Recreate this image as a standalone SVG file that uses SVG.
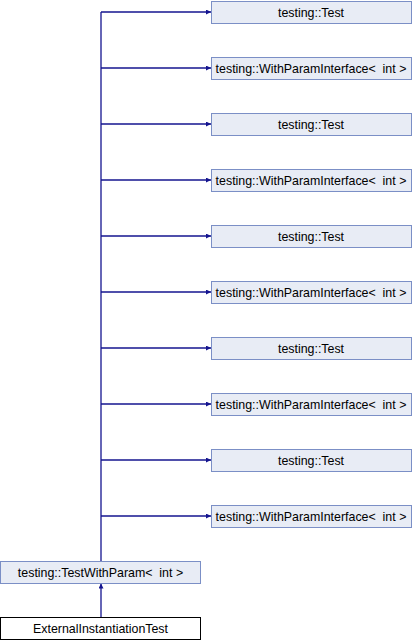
<svg xmlns="http://www.w3.org/2000/svg" width="412" height="640" viewBox="0 0 412 640">
<style>
.n rect{fill:#e8ecf5;stroke:#7b8fc6;stroke-width:1}
.m rect{fill:#ffffff;stroke:#000000;stroke-width:1}
text{font-family:"Liberation Sans",Arial,sans-serif;font-size:12.4px;fill:#000;text-anchor:middle;white-space:pre}
.e{fill:none;stroke:#14148f;stroke-width:1.3}
</style>
<defs>
<marker id="a" viewBox="0 0 10 10" refX="10" refY="5" markerWidth="5" markerHeight="5" markerUnits="userSpaceOnUse" orient="auto">
<path d="M0,0 L10,5 L0,10 z" fill="#14148f"/>
</marker>
</defs>
<g id="connectors">
<path class="e" d="M101,561 V12"/>
<path class="e" d="M101,12 H211" marker-end="url(#a)"/>
<path class="e" d="M101,68 H211" marker-end="url(#a)"/>
<path class="e" d="M101,124 H211" marker-end="url(#a)"/>
<path class="e" d="M101,180 H211" marker-end="url(#a)"/>
<path class="e" d="M101,236 H211" marker-end="url(#a)"/>
<path class="e" d="M101,292 H211" marker-end="url(#a)"/>
<path class="e" d="M101,348 H211" marker-end="url(#a)"/>
<path class="e" d="M101,404 H211" marker-end="url(#a)"/>
<path class="e" d="M101,460 H211" marker-end="url(#a)"/>
<path class="e" d="M101,516 H211" marker-end="url(#a)"/>
<path class="e" d="M101,617 V583.5" marker-end="url(#a)"/>
</g>
<g id="node1" class="n"><rect x="211.5" y="1.5" width="200" height="22"/><text x="311" y="16.5">testing::Test</text></g>
<g id="node2" class="n"><rect x="211.5" y="57.5" width="200" height="22"/><text x="311" y="72.5" xml:space="preserve">testing::WithParamInterface&lt;  int &gt;</text></g>
<g id="node3" class="n"><rect x="211.5" y="113.5" width="200" height="22"/><text x="311" y="128.5">testing::Test</text></g>
<g id="node4" class="n"><rect x="211.5" y="169.5" width="200" height="22"/><text x="311" y="184.5" xml:space="preserve">testing::WithParamInterface&lt;  int &gt;</text></g>
<g id="node5" class="n"><rect x="211.5" y="225.5" width="200" height="22"/><text x="311" y="240.5">testing::Test</text></g>
<g id="node6" class="n"><rect x="211.5" y="281.5" width="200" height="22"/><text x="311" y="296.5" xml:space="preserve">testing::WithParamInterface&lt;  int &gt;</text></g>
<g id="node7" class="n"><rect x="211.5" y="337.5" width="200" height="22"/><text x="311" y="352.5">testing::Test</text></g>
<g id="node8" class="n"><rect x="211.5" y="393.5" width="200" height="22"/><text x="311" y="408.5" xml:space="preserve">testing::WithParamInterface&lt;  int &gt;</text></g>
<g id="node9" class="n"><rect x="211.5" y="449.5" width="200" height="22"/><text x="311" y="464.5">testing::Test</text></g>
<g id="node10" class="n"><rect x="211.5" y="505.5" width="200" height="22"/><text x="311" y="520.5" xml:space="preserve">testing::WithParamInterface&lt;  int &gt;</text></g>
<g id="node11" class="n"><rect x="0.5" y="561.5" width="200" height="22"/><text x="100.5" y="576.5" xml:space="preserve">testing::TestWithParam&lt;  int &gt;</text></g>
<g id="node12" class="m"><rect x="0.5" y="617.5" width="200" height="22"/><text x="100.5" y="632.5">ExternalInstantiationTest</text></g>
</svg>
